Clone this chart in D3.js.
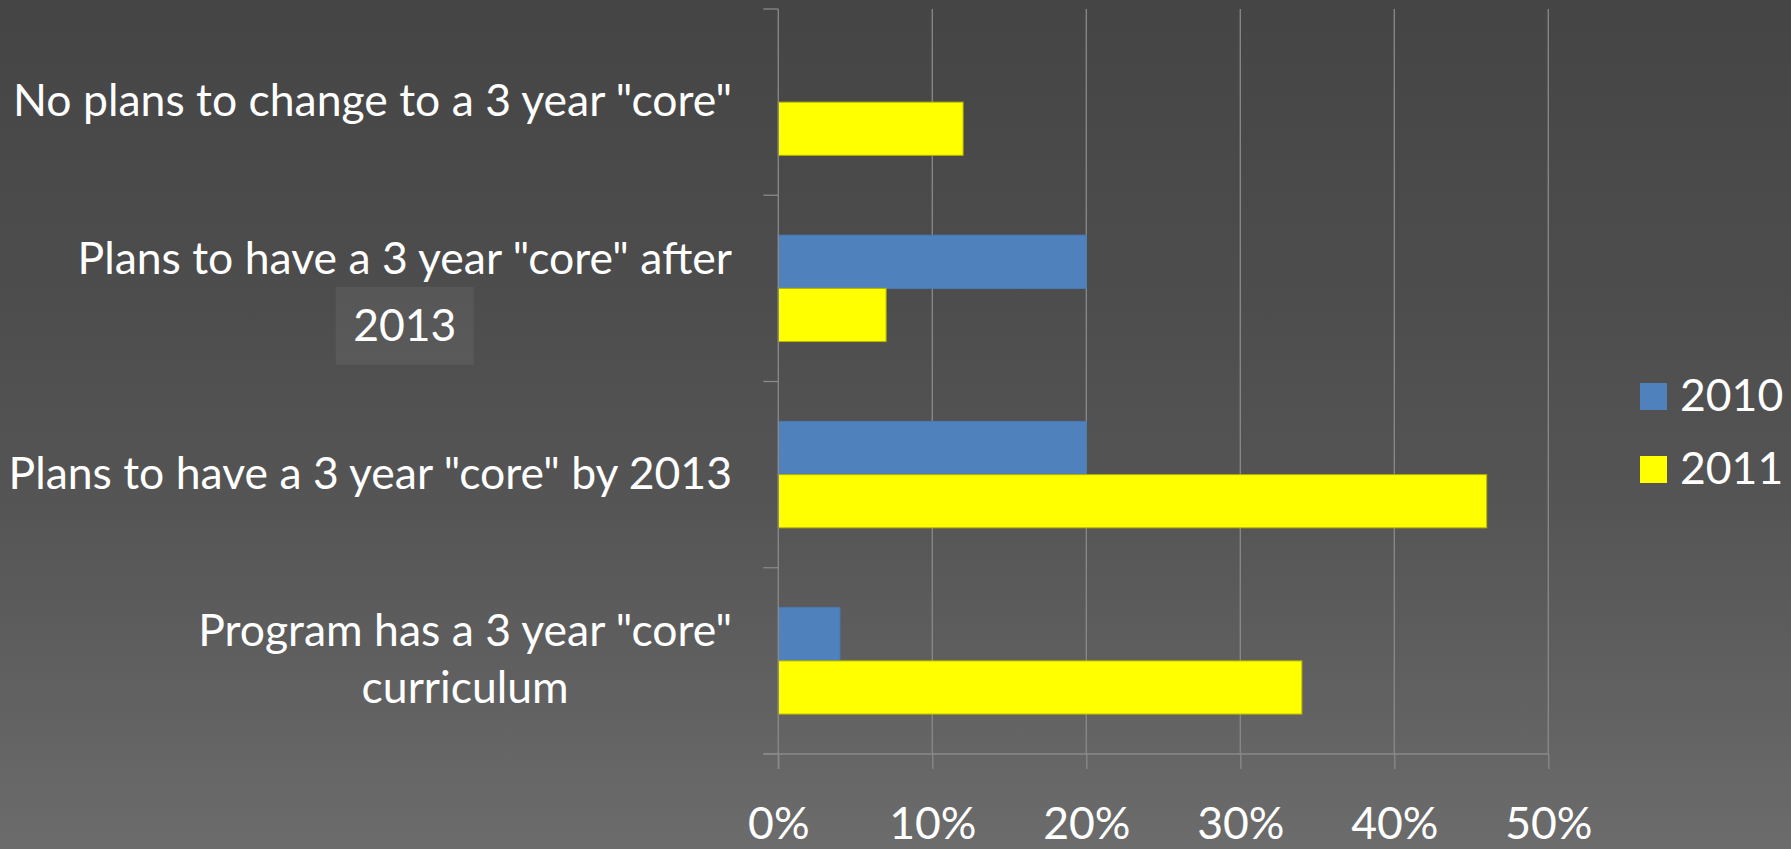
<!DOCTYPE html>
<html>
<head>
<meta charset="utf-8">
<script src="https://cdn.jsdelivr.net/npm/d3@7"></script>
<style>
  html, body { margin: 0; padding: 0; background: #4a4a4a; }
  svg { display: block; }
  text { font-family: Lato, "Open Sans", sans-serif; fill: #ffffff; }
</style>
</head>
<body>
<svg id="chart" width="1791" height="849"></svg>
<script>
// ---- data ----
const categories = [
  'No plans to change to a 3 year "core"',
  'Plans to have a 3 year "core" after 2013',
  'Plans to have a 3 year "core" by 2013',
  'Program has a 3 year "core" curriculum'
];
const categoryLabelLines = [
  ['No plans to change to a 3 year "core"'],
  ['Plans to have a 3 year "core" after', '2013'],
  ['Plans to have a 3 year "core" by 2013'],
  ['Program has a 3 year "core"', 'curriculum']
];
const seriesNames = ['2010', '2011'];
const values2010 = [0, 0.20, 0.20, 0.04];
const values2011 = [0.12, 0.07, 0.46, 0.34];
const xTickValues = [0, 0.1, 0.2, 0.3, 0.4, 0.5];

// ---- styles / layout ----
const colors = { '2010': '#4f81bd', '2011': '#ffff00' };
const strokes = { '2010': '#4a7cb6', '2011': '#b3b300' };
const W = 1791, H = 849;
const plot = { left: 778.3, right: 1548.3, top: 9, bottom: 754 };
const fontSize = 44.5;
const gridColor = '#8a8a8a';

const svg = d3.select('#chart');

// background gradient
const defs = svg.append('defs');
const grad = defs.append('linearGradient').attr('id', 'bg')
  .attr('x1', 0).attr('y1', 0).attr('x2', 0).attr('y2', 1);
[[0, '#454545'], [0.35, '#4d4d4d'], [0.6, '#555555'], [0.82, '#616161'], [1, '#6c6c6c']]
  .forEach(([o, c]) => grad.append('stop').attr('offset', o).attr('stop-color', c));
svg.append('rect').attr('width', W).attr('height', H).attr('fill', 'url(#bg)');

// scales
const x = d3.scaleLinear().domain([0, 0.5]).range([plot.left, plot.right]);
const y = d3.scaleBand().domain(categories).range([plot.top, plot.bottom]).padding(0);
const ySub = d3.scaleBand().domain(seriesNames).range([0, y.bandwidth()])
  .paddingInner(0).paddingOuter(0.75);

// gridlines
svg.append('g').selectAll('line')
  .data(xTickValues.filter(v => v > 0))
  .join('line')
  .attr('x1', d => x(d)).attr('x2', d => x(d))
  .attr('y1', plot.top).attr('y2', plot.bottom)
  .attr('stroke', gridColor).attr('stroke-width', 1.3);

// bars
const rows = categories.map((c, i) => ({ cat: c, vals: [
  { s: '2010', v: values2010[i] }, { s: '2011', v: values2011[i] }
]}));
const g = svg.append('g');
rows.forEach(r => {
  r.vals.forEach(d => {
    if (d.v <= 0) return;
    g.append('rect')
      .attr('x', x(0))
      .attr('y', y(r.cat) + ySub(d.s))
      .attr('width', x(d.v) - x(0))
      .attr('height', ySub.bandwidth())
      .attr('fill', colors[d.s])
      .attr('stroke', strokes[d.s])
      .attr('stroke-width', 1);
  });
});

// x axis (bottom)
const xAxis = d3.axisBottom(x).tickValues(xTickValues).tickSize(15).tickPadding(0)
  .tickFormat(d3.format('.0%'));
const xg = svg.append('g').attr('transform', `translate(0,${plot.bottom})`).call(xAxis);
xg.select('.domain').attr('d', `M${plot.left - 15},0H${plot.right}`)
  .attr('stroke', gridColor).attr('stroke-width', 1.3);
xg.selectAll('.tick line').attr('stroke', gridColor).attr('stroke-width', 1.3);
xg.selectAll('.tick text')
  .attr('y', 85).attr('dy', 0)
  .attr('fill', '#ffffff')
  .style('font-family', 'Lato, "Open Sans", sans-serif')
  .style('font-size', fontSize + 'px');

// y axis (left) with boundary ticks
const bounds = categories.map(c => y(c)).concat([plot.bottom]);
const yg = svg.append('g');
yg.append('line').attr('x1', plot.left).attr('x2', plot.left)
  .attr('y1', plot.top).attr('y2', plot.bottom + 15)
  .attr('stroke', gridColor).attr('stroke-width', 1.3);
yg.selectAll('line.tk').data(bounds).join('line').attr('class', 'tk')
  .attr('x1', plot.left - 15).attr('x2', plot.left)
  .attr('y1', d => d).attr('y2', d => d)
  .attr('stroke', gridColor).attr('stroke-width', 1.3);

// category labels (centered block, right edge at labelRight)
const labelRight = 732;
const lineHeight = 57;
const lg = svg.append('g');
categories.forEach((c, i) => {
  const lines = categoryLabelLines[i];
  const center = y(c) + y.bandwidth() / 2;
  const t = lg.append('text').style('font-size', fontSize + 'px').attr('text-anchor', 'middle');
  const firstBase = center + 14 - (lines.length - 1) * lineHeight / 2;
  const bases = lines.map((ln, k) => firstBase + k * lineHeight + (i === 1 && k === 1 ? 10 : 0));
  const spans = lines.map((ln, k) => t.append('tspan').text(ln).attr('y', bases[k]));
  const maxW = d3.max(spans, s => s.node().getComputedTextLength());
  const cx = labelRight - maxW / 2;
  spans.forEach(s => s.attr('x', cx));
  if (i === 1) {
    // highlighted box behind the second line
    lg.insert('rect', 'text')
      .attr('x', cx - 69).attr('y', bases[1] - 54)
      .attr('width', 138).attr('height', 78)
      .attr('fill', '#ffffff').attr('fill-opacity', 0.06);
  }
});

// legend
const lgd = svg.append('g');
seriesNames.forEach((s, i) => {
  const yy = 383 + i * 73;
  lgd.append('rect').attr('x', 1640).attr('y', yy).attr('width', 27).attr('height', 27)
    .attr('fill', colors[s]);
  lgd.append('text').attr('x', 1680).attr('y', yy + 28)
    .style('font-size', fontSize + 'px').text(s);
});
</script>
</body>
</html>
